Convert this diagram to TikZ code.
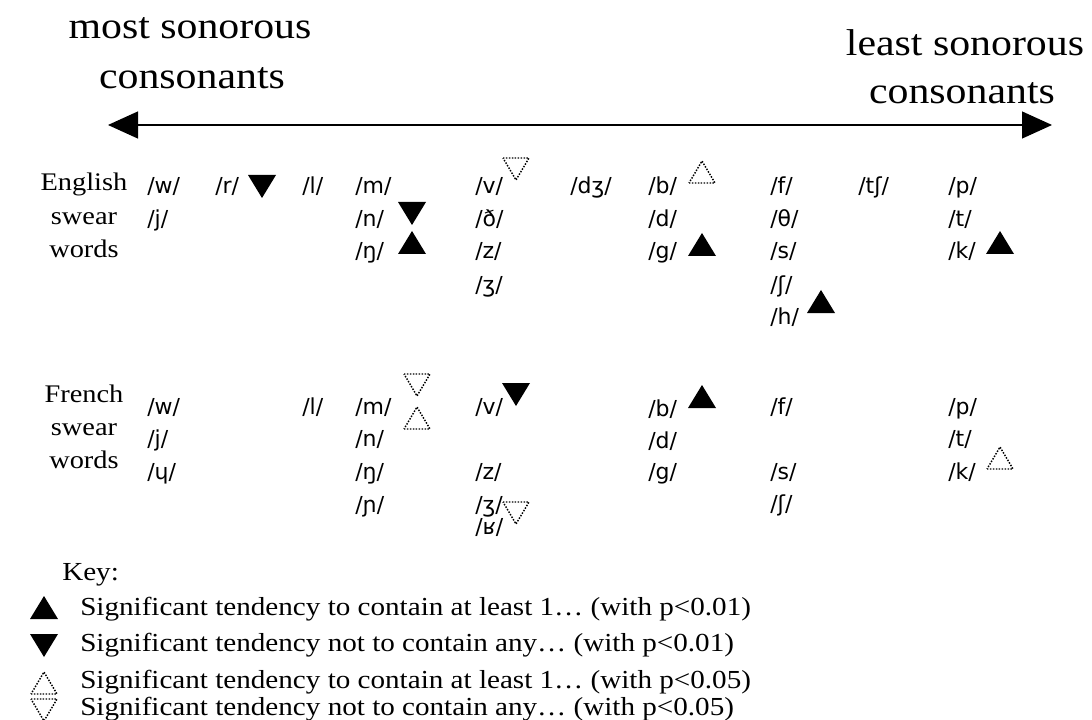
\documentclass[tikz,border=0pt]{standalone}
\usepackage{fontspec}
\setmainfont{Liberation Serif}[FakeStretch=1.12]
\newfontfamily\ipafont{DejaVu Sans}
\usetikzlibrary{arrows.meta}
\begin{document}
\begin{tikzpicture}[x=0.75pt,y=-0.75pt,
  ph/.style={anchor=base west, inner sep=0pt, font=\ipafont\fontsize{16.5}{19}\selectfont},
  lab/.style={anchor=base, inner sep=0pt, font=\fontsize{19}{22}\selectfont},
  ttl/.style={anchor=base, inner sep=0pt, font=\fontsize{28}{32}\selectfont},
  keytxt/.style={anchor=base west, inner sep=0pt, font=\fontsize{19.5}{22}\selectfont},
  dotline/.style={line width=1.1pt, dash pattern=on 1.1pt off 1.1pt},
  upf/.pic={\fill (-14,11) -- (14,11) -- (0,-12) -- cycle;},
  dnf/.pic={\fill (-14,-11) -- (14,-11) -- (0,12) -- cycle;},
  upd/.pic={\draw[dotline] (-13,11) -- (13,11) -- (0,-11) -- cycle;},
  dnd/.pic={\draw[dotline] (-13,-11) -- (13,-11) -- (0,11) -- cycle;}
]
\useasboundingbox[fill=white] (0,0) rectangle (1092,720);

% titles
\node[ttl] (t1) at (190,39) {most sonorous};
\node[ttl] (t2) at (192,89) {consonants};
\node[ttl] (t3) at (965,56) {least sonorous};
\node[ttl] (t4) at (962,104) {consonants};

% arrow
\coordinate (L) at (108,125);
\coordinate (R) at (1052,125);
\draw[line width=0.9pt, {Triangle[length=30pt*0.75,width=27pt*0.75]}-{Triangle[length=30pt*0.75,width=27pt*0.75]}] (L) -- (R);

% row labels
\node[lab] (en1) at (84,191) {English};
\node[lab] (en2) at (84,225) {swear};
\node[lab] (en3) at (84,258) {words};
\node[lab] (fr1) at (84,402) {French};
\node[lab] (fr2) at (84,435) {swear};
\node[lab] (fr3) at (84,468) {words};

% English phonemes
\node[ph] (ew) at (147,194) {/w/};
\node[ph] (ej) at (147,227) {/j/};
\node[ph] (er) at (215,194) {/r/};
\node[ph] (el) at (302,194) {/l/};
\node[ph] (em) at (355,194) {/m/};
\node[ph] (en) at (355,227) {/n/};
\node[ph] (eng) at (355,259) {/ŋ/};
\node[ph] (ev) at (475,194) {/v/};
\node[ph] (edh) at (475,227) {/ð/};
\node[ph] (ez) at (475,259) {/z/};
\node[ph] (ezh) at (475,292) {/ʒ/};
\node[ph] (edzh) at (570,194) {/dʒ/};
\node[ph] (eb) at (648,194) {/b/};
\node[ph] (ed) at (648,227) {/d/};
\node[ph] (eg) at (648,259) {/g/};
\node[ph] (ef) at (770,194) {/f/};
\node[ph] (eth) at (770,227) {/θ/};
\node[ph] (es) at (770,259) {/s/};
\node[ph] (esh) at (770,292) {/ʃ/};
\node[ph] (eh) at (770,325) {/h/};
\node[ph] (etsh) at (858,194) {/tʃ/};
\node[ph] (ep) at (948,194) {/p/};
\node[ph] (et) at (948,227) {/t/};
\node[ph] (ek) at (948,259) {/k/};

% English triangles
\pic at (262,186) {dnf};
\pic at (412,213) {dnf};
\pic at (412,243) {upf};
\pic at (516,169) {dnd};
\pic at (702,172) {upd};
\pic at (702,245) {upf};
\pic at (821,302) {upf};
\pic at (1000,243) {upf};

% French phonemes
\node[ph] (fw) at (147,414) {/w/};
\node[ph] (fj) at (147,446) {/j/};
\node[ph] (fhw) at (147,479) {/ɥ/};
\node[ph] (fl) at (302,414) {/l/};
\node[ph] (fm) at (355,414) {/m/};
\node[ph] (fn) at (355,446) {/n/};
\node[ph] (fng) at (355,479) {/ŋ/};
\node[ph] (fny) at (355,512) {/ɲ/};
\node[ph] (fv) at (475,414) {/v/};
\node[ph] (fz) at (475,479) {/z/};
\node[ph] (fzh) at (475,512) {/ʒ/};
\node[ph] (fr) at (475,534) {/ʁ/};
\node[ph] (fb) at (648,416) {/b/};
\node[ph] (fd) at (648,448) {/d/};
\node[ph] (fg) at (648,479) {/g/};
\node[ph] (ff) at (770,414) {/f/};
\node[ph] (fs) at (770,479) {/s/};
\node[ph] (fsh) at (770,511) {/ʃ/};
\node[ph] (fp) at (948,414) {/p/};
\node[ph] (ft) at (948,446) {/t/};
\node[ph] (fk) at (948,479) {/k/};

% French triangles
\pic at (417,385) {dnd};
\pic at (417,418) {upd};
\pic at (516,394) {dnf};
\pic at (702,397) {upf};
\pic at (516,513) {dnd};
\pic at (1000,458) {upd};

% key
\node[keytxt] (key) at (62,580) {Key:};
\pic at (44,608) {upf};
\node[keytxt] (k1) at (80,615) {Significant tendency to contain at least 1… (with p<0.01)};
\pic at (44,645) {dnf};
\node[keytxt] (k2) at (80,651) {Significant tendency not to contain any… (with p<0.01)};
\pic at (44,683) {upd};
\node[keytxt] (k3) at (80,688) {Significant tendency to contain at least 1… (with p<0.05)};
\pic at (44,710) {dnd};
\node[keytxt] (k4) at (80,715) {Significant tendency not to contain any… (with p<0.05)};
\end{tikzpicture}
\end{document}
